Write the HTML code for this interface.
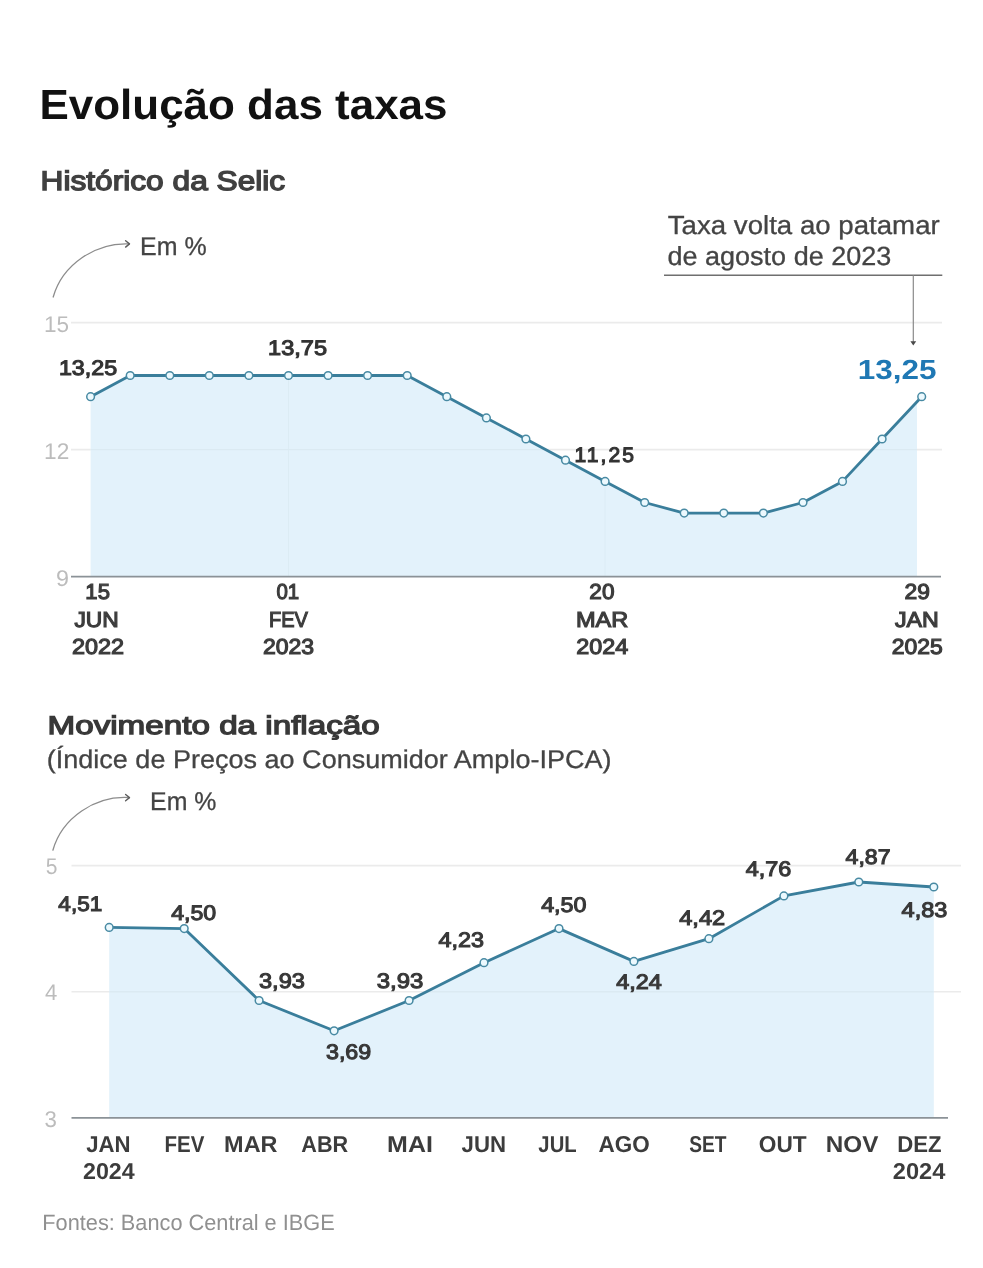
<!DOCTYPE html>
<html lang="pt-BR">
<head>
<meta charset="utf-8">
<title>Evolução das taxas</title>
<style>
  html, body { margin: 0; padding: 0; background: #ffffff; }
  body { width: 983px; height: 1268px; overflow: hidden; font-family: "Liberation Sans", sans-serif; }
  svg { display: block; }
  svg text { font-family: "Liberation Sans", sans-serif; text-rendering: geometricPrecision; }
  .grid line { stroke: #ebebeb; stroke-width: 1.6; }
  .base line { stroke: #8b9297; stroke-width: 1.7; }
  .area { fill: #e3f2fb; }
  .ln { fill: none; stroke: #3a7e9b; stroke-width: 2.8; stroke-linejoin: round; stroke-linecap: round; }
  .dots circle { fill: #ecf9fe; stroke: #488aa3; stroke-width: 1.5; }
  .head { fill: none; stroke: #5c5c5c; stroke-width: 1.4; stroke-linecap: round; stroke-linejoin: round; }
  .note { fill: none; stroke: #8c8c8c; stroke-width: 1.3; stroke-linecap: round; stroke-linejoin: round; }
</style>
</head>
<body>
<svg width="983" height="1268" viewBox="0 0 983 1268">
<rect width="983" height="1268" fill="#ffffff"/>

<!-- ===== Chart 1: Histórico da Selic ===== -->
<defs>
  <clipPath id="c1"><rect x="0" y="300" width="917" height="300"/></clipPath>
  <clipPath id="a1"><path d="M90.6,576.6 L90.6,396.7 L130.2,375.5 L169.8,375.5 L209.3,375.5 L248.9,375.5 L288.5,375.5 L328.1,375.5 L367.6,375.5 L407.2,375.5 L446.8,396.7 L486.4,417.9 L525.9,439.0 L565.5,460.2 L605.1,481.4 L644.7,502.5 L684.2,513.1 L723.8,513.1 L763.4,513.1 L803.0,502.5 L842.5,481.4 L882.1,439.0 L921.7,396.7 L921.7,576.6 Z"/></clipPath>
  <clipPath id="a2"><path d="M109.2,1117.8 L109.2,927.4 L184.2,928.6 L259.1,1000.5 L334.1,1030.8 L409.1,1000.5 L484.0,962.7 L559.0,928.6 L633.9,961.4 L708.9,938.7 L783.9,895.9 L858.8,882.0 L933.8,887.0 L933.8,1117.8 Z"/></clipPath>
</defs>
<g class="grid">
  <line x1="71" y1="322.6" x2="942" y2="322.6"/>
  <line x1="71" y1="449.6" x2="942" y2="449.6"/>
</g>
<path class="area" d="M90.6,576.6 L90.6,396.7 L130.2,375.5 L169.8,375.5 L209.3,375.5 L248.9,375.5 L288.5,375.5 L328.1,375.5 L367.6,375.5 L407.2,375.5 L446.8,396.7 L486.4,417.9 L525.9,439.0 L565.5,460.2 L605.1,481.4 L644.7,502.5 L684.2,513.1 L723.8,513.1 L763.4,513.1 L803.0,502.5 L842.5,481.4 L882.1,439.0 L921.7,396.7 L921.7,576.6 Z" clip-path="url(#c1)"/>
<g stroke="#d9e9f1" stroke-width="1" opacity="0.6">
  <line x1="288.5" y1="375.5" x2="288.5" y2="576.6"/>
  <line x1="605.1" y1="481.4" x2="605.1" y2="576.6"/>
</g>
<g clip-path="url(#a1)"><line x1="90.6" y1="449.6" x2="917" y2="449.6" stroke="#dbeaf2" stroke-width="1.4"/></g>
<g class="base"><line x1="71" y1="576.6" x2="941" y2="576.6"/></g>
<polyline class="ln" points="90.6,396.7 130.2,375.5 169.8,375.5 209.3,375.5 248.9,375.5 288.5,375.5 328.1,375.5 367.6,375.5 407.2,375.5 446.8,396.7 486.4,417.9 525.9,439.0 565.5,460.2 605.1,481.4 644.7,502.5 684.2,513.1 723.8,513.1 763.4,513.1 803.0,502.5 842.5,481.4 882.1,439.0 921.7,396.7"/>
<g class="dots">
<circle cx="90.6" cy="396.7" r="3.85"/>
<circle cx="130.2" cy="375.5" r="3.85"/>
<circle cx="169.8" cy="375.5" r="3.85"/>
<circle cx="209.3" cy="375.5" r="3.85"/>
<circle cx="248.9" cy="375.5" r="3.85"/>
<circle cx="288.5" cy="375.5" r="3.85"/>
<circle cx="328.1" cy="375.5" r="3.85"/>
<circle cx="367.6" cy="375.5" r="3.85"/>
<circle cx="407.2" cy="375.5" r="3.85"/>
<circle cx="446.8" cy="396.7" r="3.85"/>
<circle cx="486.4" cy="417.9" r="3.85"/>
<circle cx="525.9" cy="439.0" r="3.85"/>
<circle cx="565.5" cy="460.2" r="3.85"/>
<circle cx="605.1" cy="481.4" r="3.85"/>
<circle cx="644.7" cy="502.5" r="3.85"/>
<circle cx="684.2" cy="513.1" r="3.85"/>
<circle cx="723.8" cy="513.1" r="3.85"/>
<circle cx="763.4" cy="513.1" r="3.85"/>
<circle cx="803.0" cy="502.5" r="3.85"/>
<circle cx="842.5" cy="481.4" r="3.85"/>
<circle cx="882.1" cy="439.0" r="3.85"/>
<circle cx="921.7" cy="396.7" r="3.85"/>
</g>
<!-- curved arrow + Em % -->
<path class="note" d="M53.2,297 C62.3,264.7 95.4,242.3 129.2,243.9"/>
<path class="head" d="M125.6,240.8 L129.5,243.9 L125.6,247.1"/>
<!-- annotation -->
<line x1="664" y1="275.3" x2="942.3" y2="275.3" stroke="#6f6f6f" stroke-width="1.4"/>
<line x1="913.3" y1="275.3" x2="913.3" y2="342" stroke="#8a8a8a" stroke-width="1.2"/>
<path d="M910.4,341.2 L916.2,341.2 L913.3,345.4 Z" fill="#4a4a4a"/>

<!-- ===== Chart 2: Movimento da inflação ===== -->
<g class="grid">
  <line x1="71.5" y1="865.6" x2="961" y2="865.6"/>
  <line x1="71.5" y1="991.7" x2="961" y2="991.7"/>
</g>
<path class="area" d="M109.2,1117.8 L109.2,927.4 L184.2,928.6 L259.1,1000.5 L334.1,1030.8 L409.1,1000.5 L484.0,962.7 L559.0,928.6 L633.9,961.4 L708.9,938.7 L783.9,895.9 L858.8,882.0 L933.8,887.0 L933.8,1117.8 Z"/>
<g clip-path="url(#a2)"><line x1="109.2" y1="991.7" x2="933.8" y2="991.7" stroke="#dbeaf2" stroke-width="1.4"/></g>
<g class="base"><line x1="71.5" y1="1117.8" x2="948" y2="1117.8"/></g>
<polyline class="ln" points="109.2,927.4 184.2,928.6 259.1,1000.5 334.1,1030.8 409.1,1000.5 484.0,962.7 559.0,928.6 633.9,961.4 708.9,938.7 783.9,895.9 858.8,882.0 933.8,887.0"/>
<g class="dots">
<circle cx="109.2" cy="927.4" r="3.85"/>
<circle cx="184.2" cy="928.6" r="3.85"/>
<circle cx="259.1" cy="1000.5" r="3.85"/>
<circle cx="334.1" cy="1030.8" r="3.85"/>
<circle cx="409.1" cy="1000.5" r="3.85"/>
<circle cx="484.0" cy="962.7" r="3.85"/>
<circle cx="559.0" cy="928.6" r="3.85"/>
<circle cx="633.9" cy="961.4" r="3.85"/>
<circle cx="708.9" cy="938.7" r="3.85"/>
<circle cx="783.9" cy="895.9" r="3.85"/>
<circle cx="858.8" cy="882.0" r="3.85"/>
<circle cx="933.8" cy="887.0" r="3.85"/>
</g>
<path class="note" d="M52.9,850.2 C62,817.9 95.1,795.5 129.2,797.6"/>
<path class="head" d="M125.6,794.5 L129.5,797.6 L125.6,800.8"/>

<!-- ===== Text ===== -->
<text x="39.46" y="118.50" font-size="42.04" font-weight="bold" fill="#111111" textLength="408.08" lengthAdjust="spacingAndGlyphs">Evolução das taxas</text>
<text x="40.59" y="190.32" font-size="27.13" font-weight="normal" fill="#404040" stroke="#404040" stroke-width="1.35" textLength="244.59" lengthAdjust="spacingAndGlyphs">Histórico da Selic</text>
<text x="140.11" y="255.15" font-size="25.60" font-weight="normal" fill="#444444" stroke="#444444" stroke-width="0.3" textLength="66.55" lengthAdjust="spacingAndGlyphs">Em %</text>
<text x="667.80" y="233.55" font-size="26.18" font-weight="normal" fill="#444444" stroke="#444444" stroke-width="0.3" textLength="271.93" lengthAdjust="spacingAndGlyphs">Taxa volta ao patamar</text>
<text x="667.49" y="265.35" font-size="26.18" font-weight="normal" fill="#444444" stroke="#444444" stroke-width="0.3" textLength="223.78" lengthAdjust="spacingAndGlyphs">de agosto de 2023</text>
<text x="44.07" y="332.00" font-size="22.69" font-weight="normal" fill="#bcbcbc" textLength="25.08" lengthAdjust="spacingAndGlyphs">15</text>
<text x="44.07" y="458.60" font-size="22.69" font-weight="normal" fill="#bcbcbc" textLength="25.18" lengthAdjust="spacingAndGlyphs">12</text>
<text x="55.97" y="585.60" font-size="22.69" font-weight="normal" fill="#bcbcbc" textLength="13.01" lengthAdjust="spacingAndGlyphs">9</text>
<text x="58.90" y="375.05" font-size="21.09" font-weight="normal" fill="#333333" stroke="#333333" stroke-width="1.1" textLength="58.27" lengthAdjust="spacingAndGlyphs">13,25</text>
<text x="268.08" y="355.05" font-size="21.09" font-weight="normal" fill="#333333" stroke="#333333" stroke-width="1.1" textLength="58.89" lengthAdjust="spacingAndGlyphs">13,75</text>
<text x="574.60" y="462.05" font-size="21.09" font-weight="normal" fill="#333333" stroke="#333333" stroke-width="1.1" textLength="59.39" lengthAdjust="spacing">11,25</text>
<text x="857.82" y="379.30" font-size="27.64" font-weight="bold" fill="#1f78b4" textLength="78.75" lengthAdjust="spacingAndGlyphs">13,25</text>
<text x="85.38" y="599.22" font-size="21.60" font-weight="normal" fill="#3c3c3c" stroke="#3c3c3c" stroke-width="1.15" textLength="24.55" lengthAdjust="spacingAndGlyphs">15</text>
<text x="74.41" y="626.52" font-size="21.60" font-weight="normal" fill="#3c3c3c" stroke="#3c3c3c" stroke-width="1.15" textLength="44.34" lengthAdjust="spacingAndGlyphs">JUN</text>
<text x="71.93" y="654.22" font-size="21.60" font-weight="normal" fill="#3c3c3c" stroke="#3c3c3c" stroke-width="1.15" textLength="52.08" lengthAdjust="spacingAndGlyphs">2022</text>
<text x="276.40" y="599.22" font-size="21.60" font-weight="normal" fill="#3c3c3c" stroke="#3c3c3c" stroke-width="1.15" textLength="22.73" lengthAdjust="spacingAndGlyphs">01</text>
<text x="268.97" y="626.52" font-size="21.60" font-weight="normal" fill="#3c3c3c" stroke="#3c3c3c" stroke-width="1.15" textLength="38.87" lengthAdjust="spacingAndGlyphs">FEV</text>
<text x="262.94" y="654.22" font-size="21.60" font-weight="normal" fill="#3c3c3c" stroke="#3c3c3c" stroke-width="1.15" textLength="51.21" lengthAdjust="spacingAndGlyphs">2023</text>
<text x="589.35" y="599.22" font-size="21.60" font-weight="normal" fill="#3c3c3c" stroke="#3c3c3c" stroke-width="1.15" textLength="25.08" lengthAdjust="spacingAndGlyphs">20</text>
<text x="576.01" y="626.52" font-size="21.60" font-weight="normal" fill="#3c3c3c" stroke="#3c3c3c" stroke-width="1.15" textLength="52.26" lengthAdjust="spacingAndGlyphs">MAR</text>
<text x="576.23" y="654.22" font-size="21.60" font-weight="normal" fill="#3c3c3c" stroke="#3c3c3c" stroke-width="1.15" textLength="51.92" lengthAdjust="spacingAndGlyphs">2024</text>
<text x="904.64" y="599.22" font-size="21.60" font-weight="normal" fill="#3c3c3c" stroke="#3c3c3c" stroke-width="1.15" textLength="25.39" lengthAdjust="spacingAndGlyphs">29</text>
<text x="895.01" y="626.52" font-size="21.60" font-weight="normal" fill="#3c3c3c" stroke="#3c3c3c" stroke-width="1.15" textLength="43.84" lengthAdjust="spacingAndGlyphs">JAN</text>
<text x="891.84" y="654.22" font-size="21.60" font-weight="normal" fill="#3c3c3c" stroke="#3c3c3c" stroke-width="1.15" textLength="51.01" lengthAdjust="spacingAndGlyphs">2025</text>
<text x="47.51" y="734.38" font-size="25.67" font-weight="normal" fill="#383838" stroke="#383838" stroke-width="1.25" textLength="332.27" lengthAdjust="spacingAndGlyphs">Movimento da inflação</text>
<text x="46.74" y="767.85" font-size="25.60" font-weight="normal" fill="#444444" stroke="#444444" stroke-width="0.3" textLength="564.78" lengthAdjust="spacingAndGlyphs">(Índice de Preços ao Consumidor Amplo-IPCA)</text>
<text x="150.11" y="810.05" font-size="25.60" font-weight="normal" fill="#444444" stroke="#444444" stroke-width="0.3" textLength="66.34" lengthAdjust="spacingAndGlyphs">Em %</text>
<text x="45.68" y="874.00" font-size="22.69" font-weight="normal" fill="#bcbcbc" textLength="11.70" lengthAdjust="spacingAndGlyphs">5</text>
<text x="45.09" y="1000.20" font-size="22.69" font-weight="normal" fill="#bcbcbc" textLength="12.32" lengthAdjust="spacingAndGlyphs">4</text>
<text x="44.44" y="1127.20" font-size="22.69" font-weight="normal" fill="#bcbcbc" textLength="12.37" lengthAdjust="spacingAndGlyphs">3</text>
<text x="58.37" y="911.45" font-size="21.09" font-weight="normal" fill="#383838" stroke="#383838" stroke-width="1.1" textLength="43.83" lengthAdjust="spacingAndGlyphs">4,51</text>
<text x="171.17" y="920.05" font-size="21.09" font-weight="normal" fill="#383838" stroke="#383838" stroke-width="1.1" textLength="44.97" lengthAdjust="spacingAndGlyphs">4,50</text>
<text x="259.00" y="988.15" font-size="21.09" font-weight="normal" fill="#383838" stroke="#383838" stroke-width="1.1" textLength="45.91" lengthAdjust="spacingAndGlyphs">3,93</text>
<text x="326.00" y="1058.75" font-size="21.09" font-weight="normal" fill="#383838" stroke="#383838" stroke-width="1.1" textLength="45.22" lengthAdjust="spacingAndGlyphs">3,69</text>
<text x="376.80" y="987.55" font-size="21.09" font-weight="normal" fill="#383838" stroke="#383838" stroke-width="1.1" textLength="46.61" lengthAdjust="spacingAndGlyphs">3,93</text>
<text x="438.47" y="946.75" font-size="21.09" font-weight="normal" fill="#383838" stroke="#383838" stroke-width="1.1" textLength="45.43" lengthAdjust="spacingAndGlyphs">4,23</text>
<text x="541.17" y="912.15" font-size="21.09" font-weight="normal" fill="#383838" stroke="#383838" stroke-width="1.1" textLength="45.27" lengthAdjust="spacingAndGlyphs">4,50</text>
<text x="616.27" y="989.25" font-size="21.09" font-weight="normal" fill="#383838" stroke="#383838" stroke-width="1.1" textLength="45.57" lengthAdjust="spacingAndGlyphs">4,24</text>
<text x="679.27" y="925.45" font-size="21.09" font-weight="normal" fill="#383838" stroke="#383838" stroke-width="1.1" textLength="45.88" lengthAdjust="spacingAndGlyphs">4,42</text>
<text x="745.77" y="876.35" font-size="21.09" font-weight="normal" fill="#383838" stroke="#383838" stroke-width="1.1" textLength="45.57" lengthAdjust="spacingAndGlyphs">4,76</text>
<text x="845.57" y="863.65" font-size="21.09" font-weight="normal" fill="#383838" stroke="#383838" stroke-width="1.1" textLength="44.97" lengthAdjust="spacingAndGlyphs">4,87</text>
<text x="901.57" y="916.55" font-size="21.09" font-weight="normal" fill="#383838" stroke="#383838" stroke-width="1.1" textLength="45.73" lengthAdjust="spacingAndGlyphs">4,83</text>
<text x="86.22" y="1151.50" font-size="22.98" font-weight="bold" fill="#3c3c3c" textLength="44.38" lengthAdjust="spacingAndGlyphs">JAN</text>
<text x="164.53" y="1151.50" font-size="22.98" font-weight="bold" fill="#3c3c3c" textLength="39.89" lengthAdjust="spacingAndGlyphs">FEV</text>
<text x="224.13" y="1151.50" font-size="22.98" font-weight="bold" fill="#3c3c3c" textLength="53.39" lengthAdjust="spacingAndGlyphs">MAR</text>
<text x="301.28" y="1151.50" font-size="22.98" font-weight="bold" fill="#3c3c3c" textLength="46.85" lengthAdjust="spacingAndGlyphs">ABR</text>
<text x="387.13" y="1151.50" font-size="22.98" font-weight="bold" fill="#3c3c3c" textLength="45.78" lengthAdjust="spacingAndGlyphs">MAI</text>
<text x="461.62" y="1151.50" font-size="22.98" font-weight="bold" fill="#3c3c3c" textLength="44.48" lengthAdjust="spacingAndGlyphs">JUN</text>
<text x="538.37" y="1151.50" font-size="22.98" font-weight="bold" fill="#3c3c3c" textLength="38.28" lengthAdjust="spacingAndGlyphs">JUL</text>
<text x="598.56" y="1151.50" font-size="22.98" font-weight="bold" fill="#3c3c3c" textLength="51.20" lengthAdjust="spacingAndGlyphs">AGO</text>
<text x="689.28" y="1151.50" font-size="22.98" font-weight="bold" fill="#3c3c3c" textLength="37.24" lengthAdjust="spacingAndGlyphs">SET</text>
<text x="758.84" y="1151.50" font-size="22.98" font-weight="bold" fill="#3c3c3c" textLength="47.87" lengthAdjust="spacingAndGlyphs">OUT</text>
<text x="825.78" y="1151.50" font-size="22.98" font-weight="bold" fill="#3c3c3c" textLength="52.54" lengthAdjust="spacingAndGlyphs">NOV</text>
<text x="897.32" y="1151.50" font-size="22.98" font-weight="bold" fill="#3c3c3c" textLength="44.33" lengthAdjust="spacingAndGlyphs">DEZ</text>
<text x="82.99" y="1179.10" font-size="22.98" font-weight="bold" fill="#3c3c3c" textLength="51.72" lengthAdjust="spacingAndGlyphs">2024</text>
<text x="892.78" y="1179.10" font-size="22.98" font-weight="bold" fill="#3c3c3c" textLength="52.53" lengthAdjust="spacingAndGlyphs">2024</text>
<text x="42.32" y="1229.90" font-size="22.11" font-weight="normal" fill="#909090" textLength="292.38" lengthAdjust="spacingAndGlyphs">Fontes: Banco Central e IBGE</text>
</svg>
</body>
</html>
